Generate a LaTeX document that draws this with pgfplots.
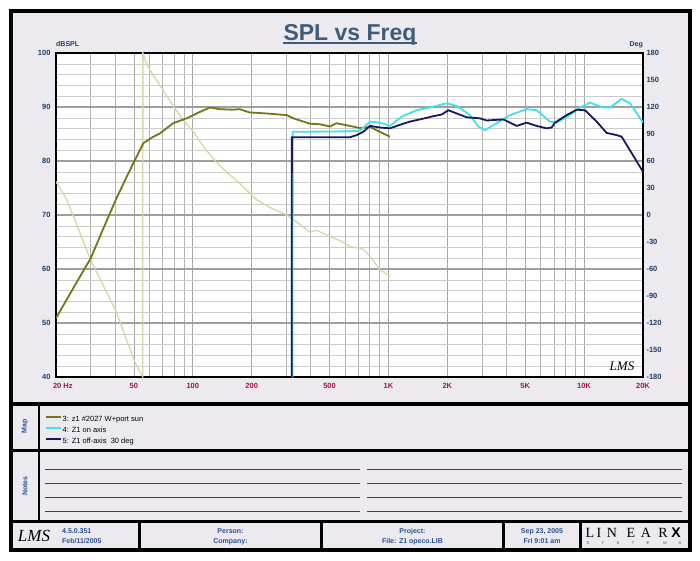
\documentclass[border=0pt]{standalone}
\usepackage{fontspec}
\setmainfont{Liberation Sans}
\newfontfamily\serifx{Liberation Serif}
\usepackage{pgfplots}
\pgfplotsset{compat=1.18}
\definecolor{bgc}{RGB}{236,234,239}
\definecolor{olivec}{RGB}{118,118,22}
\definecolor{palec}{RGB}{214,214,170}
\definecolor{cyanc}{RGB}{64,226,232}
\definecolor{navyc}{RGB}{24,24,100}
\definecolor{titlec}{RGB}{62,92,122}
\definecolor{ytc}{RGB}{30,60,110}
\definecolor{xtc}{RGB}{160,20,80}
\definecolor{footc}{RGB}{40,80,150}
\pgfplotsset{
  chartbox/.style={at={(56pt,183pt)}, anchor=south west, scale only axis,
    width=587pt, height=324pt, xmin=20, xmax=20000},
  tickfont/.style={font=\fontsize{7.5}{9}\selectfont\bfseries}
}
\begin{document}
\begin{tikzpicture}[x=1pt,y=1pt]
\useasboundingbox (0,0) rectangle (700,560);
\fill[white] (0,0) rectangle (700,560);
\filldraw[fill=bgc, draw=black, line width=4pt] (11,10) rectangle (690,548.5);
\draw[line width=3.5pt] (11,156) -- (690,156);
\draw[line width=3.5pt] (11,109.5) -- (690,109.5);
\draw[line width=3.5pt] (11,38.5) -- (690,38.5);
\draw[line width=2.5pt] (39,156) -- (39,38.5);
\foreach \xx in {139.3,321.7,503.3,580.7} \draw[line width=2.5pt] (\xx,38.5) -- (\xx,10);
% title
\node[anchor=base, inner sep=0pt, text=titlec, font=\fontsize{23}{26}\selectfont\bfseries] (T) at (350,519.5) {SPL vs Freq};
\draw[titlec, line width=1.6pt] ([yshift=-2.4pt]T.base west) -- ([yshift=-2.4pt]T.base east);
\node[anchor=base west, inner sep=0pt, text=ytc, font=\fontsize{7}{8}\selectfont\bfseries] at (56,513) {dBSPL};
\node[anchor=base east, inner sep=0pt, text=ytc, font=\fontsize{7}{8}\selectfont\bfseries] at (643,513) {Deg};

\begin{axis}[chartbox, xmode=log, ymin=40, ymax=100,
  axis background/.style={fill=white},
  xtick={20,50,100,200,500,1000,2000,5000,10000,20000},
  xticklabels={\makebox[0pt][l]{\hspace{-3pt}20 Hz},50,100,200,500,1K,2K,5K,10K,20K},
  minor xtick={30,40,60,70,80,90,300,400,600,700,800,900,3000,4000,6000,7000,8000,9000},
  ytick={40,50,60,70,80,90,100},
  yticklabels={40,50,60,70,80,90,100},
  minor ytick={42,44,46,48,52,54,56,58,62,64,66,68,72,74,76,78,82,84,86,88,92,94,96,98},
  grid=both,
  major x grid style={gray!70, line width=0.7pt},
  minor x grid style={gray!60, line width=0.6pt},
  major y grid style={gray!75, line width=1.1pt},
  minor y grid style={gray!40, line width=0.6pt},
  major tick length=0pt, minor tick length=0pt,
  axis line style={black, line width=1.3pt},
  xticklabel style={tickfont, text=xtc, yshift=-3pt},
  yticklabel style={tickfont, text=ytc, xshift=-2pt},
]
\end{axis}

\begin{axis}[chartbox, xmode=log, ymin=-180, ymax=180,
  hide x axis, axis y line*=right, axis line style={draw=none},
  ytick={-180,-150,-120,-90,-60,-30,0,30,60,90,120,150,180},
  yticklabels={-180,-150,-120,-90,-60,-30,0,30,60,90,120,150,180},
  major tick length=0pt,
  yticklabel style={tickfont, text=ytc},
]
\addplot[palec, line width=1.3pt] coordinates {
(20,37) (21.3,27) (22.7,17) (25,-6) (30.1,-50) (35,-79) (40.4,-106) (45,-134)
(50.1,-161) (53,-172) (55.5,-180) (55.6,180) (57.5,170) (60.4,161) (70,140)
(79.4,121) (90,105) (101.9,91) (115,74) (132.9,58) (150,47) (174,35) (212,17)
(250,8) (302,0) (350,-10) (397,-19) (430,-17) (502,-24) (560,-28) (636,-35)
(744,-38) (804,-46) (905,-61) (1018,-68)
};
\end{axis}

\begin{axis}[chartbox, xmode=log, ymin=40, ymax=100, hide axis,
  legend style={at={(axis description cs:-0.0187,-0.119)}, anchor=north west,
    draw=none, fill=none, inner sep=0pt, row sep=3pt,
    font=\fontsize{7.5}{9}\selectfont,
    nodes={inner sep=0.5pt, text height=5.5pt, text depth=1.5pt}},
  legend cell align=left,
  legend image code/.code={\draw[#1, line width=2pt] (0pt,2.5pt) -- (15pt,2.5pt);},
]
\addplot[olivec, line width=1.8pt] coordinates {
(20,50.9) (25,57.0) (30.1,62.0) (35,67.6) (40.4,72.8) (45,76.4) (49.7,79.6)
(55.9,83.3) (61.5,84.3) (67.9,85.1) (79.4,87.0) (93,87.9) (108.9,89.1)
(122.4,89.9) (137.7,89.6) (160,89.5) (174,89.6) (195,89.0) (238.7,88.8)
(302,88.5) (327,87.9) (397,86.9) (447,86.8) (502,86.4) (543,87.0) (636,86.5)
(714,86.1) (805,86.3) (905,85.4) (1018,84.5)
};
\addplot[cyanc, line width=1.8pt] coordinates {
(323,30) (324,85.4) (636,85.5) (714,85.6) (805,87.3) (905,87.1) (1018,86.5)
(1167,88.2) (1393,89.4) (1630,89.9) (1983,90.7) (2229,90.2) (2606,88.5)
(2875,86.4) (3112,85.7) (3574,87.0) (4178,88.5) (5083,89.6) (5719,89.4)
(6686,87.3) (7230,87.1) (8455,88.5) (9514,89.9) (10700,90.8) (12530,89.9)
(13550,89.9) (15550,91.5) (17150,90.7) (20000,87.1)
};
\addplot[navyc, line width=1.8pt] coordinates {
(320,30) (321,84.4) (636,84.4) (688,84.8) (744,85.4) (804,86.5) (905,86.2)
(1018,86.05) (1145,86.7) (1288,87.3) (1449,87.7) (1695,88.3) (1871,88.6)
(2023,89.4) (2233,88.8) (2511,88.1) (2937,87.9) (3177,87.5) (3865,87.7)
(4520,86.5) (5083,87.1) (5716,86.5) (6428,86.05) (6820,86.2) (7096,87.1)
(8140,88.5) (9160,89.5) (10100,89.4) (11590,87.3) (13030,85.2) (14660,84.8)
(15550,84.5) (17140,82.0) (20000,78.0)
};
\legend{3: z1 \#2027 W+port sun, 4: Z1 on axis, 5: Z1 off-axis\ \ 30 deg}
\end{axis}

% LMS logo in plot
\node[inner sep=0pt, font=\serifx\itshape\fontsize{13}{13}\selectfont] at (622,194) {LMS};
% side labels
\node[rotate=90, text=footc, font=\fontsize{7}{8}\selectfont\bfseries] at (25,134) {Map};
\node[rotate=90, text=footc, font=\fontsize{7}{8}\selectfont\bfseries] at (25,74) {Notes};
% notes lines
\foreach \yy in {91,77,63,49} {
  \draw[black!75, line width=1pt] (45,\yy) -- (360,\yy);
  \draw[black!75, line width=1pt] (367,\yy) -- (682,\yy);
}
% footer
\node[inner sep=0pt, font=\serifx\itshape\fontsize{17}{17}\selectfont] at (34,24) {LMS};
\begin{scope}[text=footc, font=\fontsize{7}{8}\selectfont\bfseries]
\node[anchor=base west, inner sep=0pt] at (62,27) {4.5.0.351};
\node[anchor=base west, inner sep=0pt] at (62,16.5) {Feb/11/2005};
\node[anchor=base, inner sep=0pt] at (230.5,27) {Person:};
\node[anchor=base, inner sep=0pt] at (230.5,16.5) {Company:};
\node[anchor=base, inner sep=0pt] at (412.5,27) {Project:};
\node[anchor=base, inner sep=0pt] at (412.5,16.5) {File: Z1 opeco.LIB};
\node[anchor=base, inner sep=0pt] at (542,27) {Sep 23, 2005};
\node[anchor=base, inner sep=0pt] at (542,16.5) {Fri 9:01 am};
\end{scope}
\foreach \cx/\ch in {590/L,599/I,612/N,631/E,646/A,663/R}
  \node[anchor=base, inner sep=0pt, font=\serifx\fontsize{14}{14}\selectfont] at (\cx,23) {\ch};
\node[anchor=base, inner sep=0pt, font=\fontsize{14}{14}\selectfont\bfseries] at (676,23) {X};
\foreach \cx/\ch in {588/S,603/Y,618/S,633/T,648/E,665/M,680/S}
  \node[anchor=base, inner sep=0pt, text=black!70, font=\fontsize{4}{4}\selectfont] at (\cx,15.5) {\ch};
\end{tikzpicture}
\end{document}
